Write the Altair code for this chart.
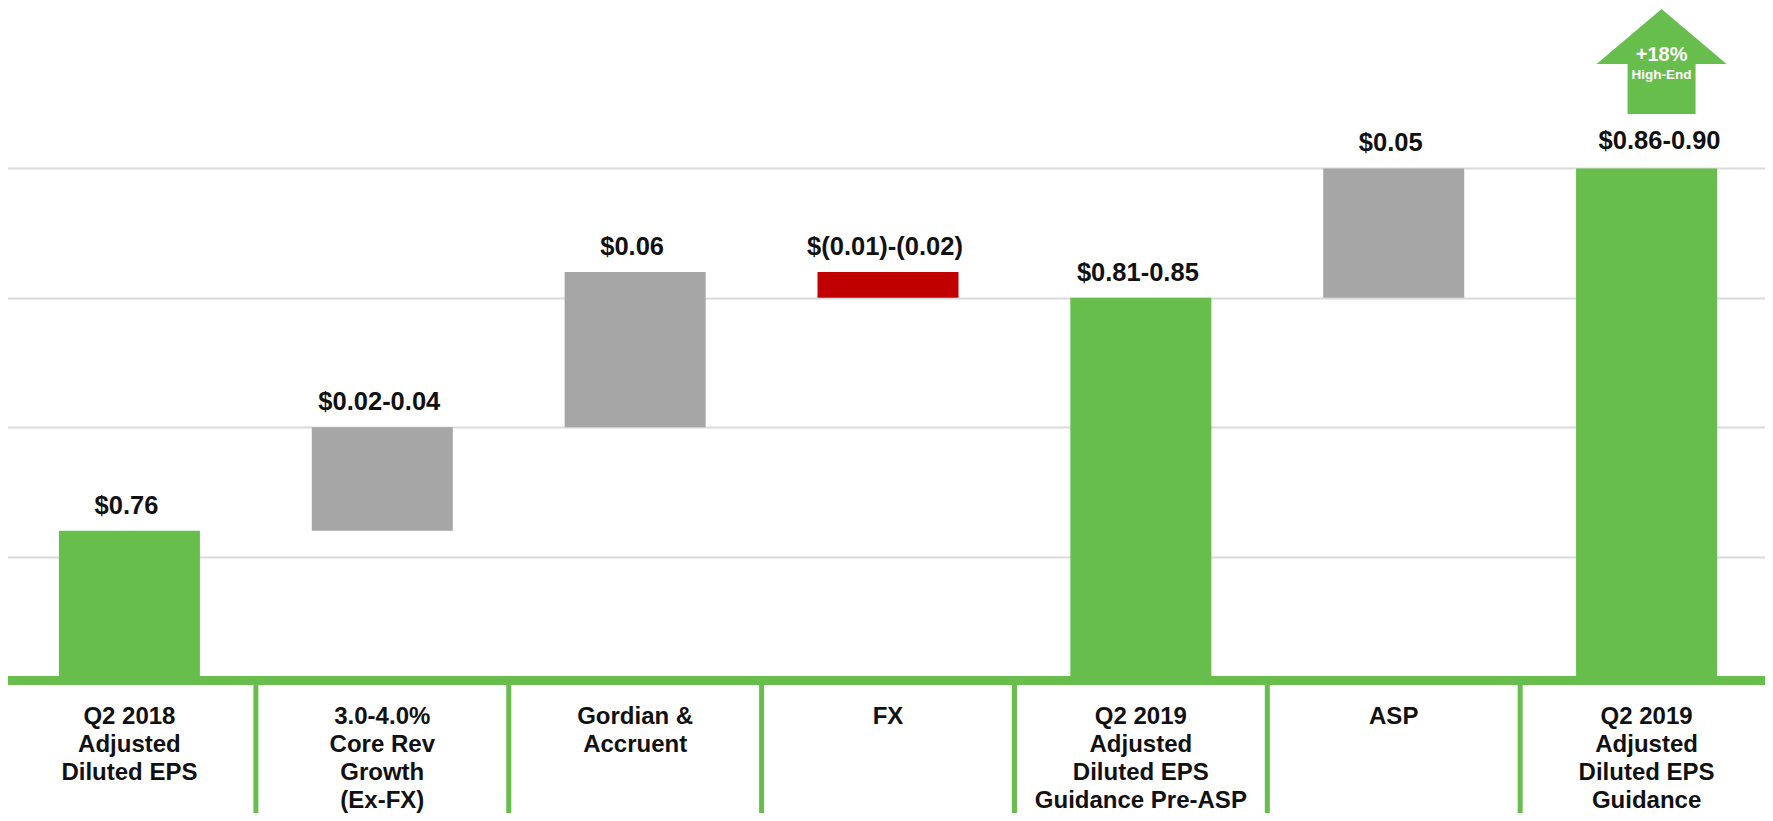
import altair as alt
import pandas as pd

# ---- data ----
keys = ["q2_2018", "core_rev", "gordian", "fx", "pre_asp", "asp", "guidance"]
category_labels = [
    "Q2 2018\nAdjusted\nDiluted EPS",
    "3.0-4.0%\nCore Rev\nGrowth\n(Ex-FX)",
    "Gordian &\nAccruent",
    "FX",
    "Q2 2019\nAdjusted\nDiluted EPS\nGuidance Pre-ASP",
    "ASP",
    "Q2 2019\nAdjusted\nDiluted EPS\nGuidance",
]
bar_start = [0.70, 0.76, 0.80, 0.86, 0.70, 0.85, 0.70]
bar_end = [0.76, 0.80, 0.86, 0.85, 0.85, 0.90, 0.90]
bar_kind = ["total", "increase", "increase", "decrease", "total", "increase", "total"]
value_labels = ["$0.76", "$0.02-0.04", "$0.06", "$(0.01)-(0.02)",
                "$0.81-0.85", "$0.05", "$0.86-0.90"]
arrow_texts = ["+18%", "High-End"]
arrow_anchor = 0.9403
grid_values = [0.75, 0.80, 0.85, 0.90]
y_domain = [0.7023, 0.9643]

GREEN = "#67BE4D"
GRAY = "#A6A6A6"
RED = "#C00000"
FONT = "Liberation Sans"

df = pd.DataFrame({
    "key": keys,
    "label": category_labels,
    "start": bar_start,
    "end": bar_end,
    "kind": bar_kind,
    "value_label": value_labels,
})
df["top"] = df[["start", "end"]].max(axis=1)

x_enc = alt.X(
    "key:N",
    sort=keys,
    scale=alt.Scale(domain=keys, paddingInner=0.4424, paddingOuter=0.2212),
    axis=alt.Axis(labels=False, ticks=False, title=None, grid=False,
                  domainColor=GREEN, domainWidth=9, zindex=1),
)
y_scale = alt.Scale(domain=y_domain, clamp=True, nice=False, zero=False)

base = alt.Chart(df)

bars = base.mark_bar().encode(
    x=x_enc,
    y=alt.Y("start:Q", scale=y_scale,
            axis=alt.Axis(values=grid_values, labels=False, ticks=False,
                          domain=False, grid=True, gridColor="#DADADA",
                          gridWidth=2, title=None)),
    y2="end:Q",
    color=alt.Color("kind:N",
                    scale=alt.Scale(domain=["total", "increase", "decrease"],
                                    range=[GREEN, GRAY, RED]),
                    legend=None),
)

value_text = base.transform_filter(alt.datum.key != "guidance").mark_text(
    font=FONT, fontSize=25.5, fontWeight="bold", color="#111111",
    baseline="alphabetic", dy=-17, dx=-3,
).encode(x=x_enc, y=alt.Y("top:Q", scale=y_scale), text="value_label:N")

last_text = base.transform_filter(alt.datum.key == "guidance").mark_text(
    font=FONT, fontSize=25.5, fontWeight="bold", color="#111111",
    baseline="alphabetic", dy=-19, dx=13,
).encode(x=x_enc, y=alt.Y("top:Q", scale=y_scale), text="value_label:N")

cat_text = base.mark_text(
    font=FONT, fontSize=24, fontWeight="bold", color="#111111",
    baseline="alphabetic", align="center", lineBreak="\n", lineHeight=28,
).encode(x=x_enc, y=alt.value(722), text="label:N")

sep_df = pd.DataFrame({"key": keys[1:]})
separators = alt.Chart(sep_df).mark_rule(
    color=GREEN, strokeWidth=5, xOffset=-126.4
).encode(x=x_enc, y=alt.value(682), y2=alt.value(812))

arrow_df = pd.DataFrame({"key": ["guidance"], "y": [arrow_anchor],
                         "t1": [arrow_texts[0]], "t2": [arrow_texts[1]]})
arrow_path = "M0,-55 L65,0 L34,0 L34,50 L-34,50 L-34,0 L-65,0 Z"
arrow = alt.Chart(arrow_df).mark_point(
    shape=arrow_path, size=4, filled=True, fill=GREEN, opacity=1,
    strokeWidth=0, xOffset=15,
).encode(x=x_enc, y=alt.Y("y:Q", scale=y_scale))

arrow_t1 = alt.Chart(arrow_df).mark_text(
    font=FONT, fontSize=20, fontWeight="bold", color="white",
    baseline="alphabetic", dx=15, dy=-3,
).encode(x=x_enc, y=alt.Y("y:Q", scale=y_scale), text="t1:N")

arrow_t2 = alt.Chart(arrow_df).mark_text(
    font=FONT, fontSize=13.5, fontWeight="bold", color="white",
    baseline="alphabetic", dx=15, dy=15,
).encode(x=x_enc, y=alt.Y("y:Q", scale=y_scale), text="t2:N")

chart = alt.layer(
    bars, separators, value_text, last_text, cat_text, arrow, arrow_t1, arrow_t2
).properties(
    width=1770, height=678,
    padding={"left": -5, "top": -6, "right": -8, "bottom": 133},
    autosize=alt.AutoSizeParams(type="none"),
    background="white",
).configure_view(stroke=None)

chart.save("out.html", embed_options={"renderer": "svg", "actions": False})
